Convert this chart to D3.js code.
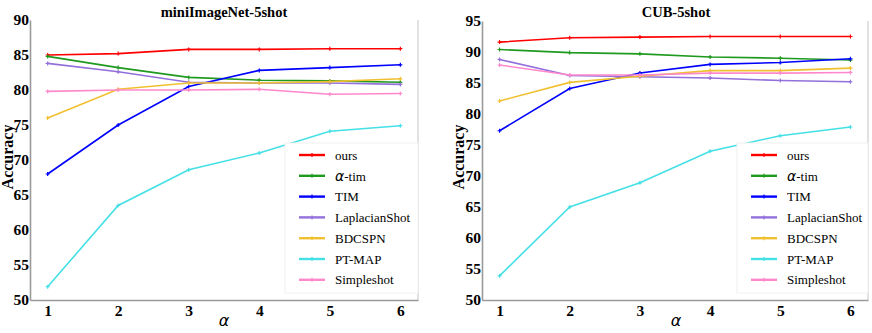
<!DOCTYPE html>
<html>
<head>
    <script src="https://d3js.org/d3.v7.min.js"></script>
    <style>
        body { margin: 0; background: #fff; }
    </style>
</head>
<body>
    <svg width="872" height="333"></svg>

    <script>
        // alpha values on the x axis
        const alphas = [1, 2, 3, 4, 5, 6];

        const methods = ["ours", "α-tim", "TIM", "LaplacianShot", "BDCSPN", "PT-MAP", "Simpleshot"];
        const colors = ["#ff0000", "#1f9a1f", "#0000ff", "#9370db", "#f0c030", "#44e0e6", "#ff88cc"];

        // miniImageNet-5shot accuracy, one array per method
        const miniOurs = [85.0, 85.2, 85.8, 85.8, 85.9, 85.9];
        const miniAlphaTim = [84.8, 83.2, 81.8, 81.4, 81.3, 81.1];
        const miniTim = [68.0, 75.0, 80.5, 82.8, 83.2, 83.6];
        const miniLaplacian = [83.8, 82.6, 81.1, 81.0, 81.0, 80.8];
        const miniBdcspn = [76.0, 80.1, 81.0, 81.0, 81.2, 81.6];
        const miniPtMap = [51.9, 63.5, 68.6, 71.0, 74.1, 74.9];
        const miniSimple = [79.8, 80.0, 80.0, 80.1, 79.4, 79.5];

        // CUB-5shot accuracy
        const cubOurs = [91.6, 92.3, 92.4, 92.5, 92.5, 92.5];
        const cubAlphaTim = [90.4, 89.9, 89.7, 89.2, 89.0, 88.7];
        const cubTim = [77.3, 84.1, 86.6, 88.0, 88.3, 88.9];
        const cubLaplacian = [88.8, 86.2, 86.0, 85.8, 85.4, 85.2];
        const cubBdcspn = [82.1, 85.1, 86.1, 87.0, 87.0, 87.4];
        const cubPtMap = [53.9, 65.0, 68.9, 74.0, 76.5, 77.9];
        const cubSimple = [87.9, 86.3, 86.3, 86.6, 86.6, 86.7];

        const miniTicks = [50, 55, 60, 65, 70, 75, 80, 85, 90];
        const cubTicks = [50, 55, 60, 65, 70, 75, 80, 85, 90, 95];

        const svg = d3.select("svg");
        const serif = "'Liberation Serif', 'Times New Roman', serif";
        const sans = "'DejaVu Sans', sans-serif";

        function drawPanel(opt) {
            const g = svg.append("g");
            const x = d3.scaleLinear().domain([0.75, 6.25]).range([opt.left, opt.right]);
            const y = d3.scaleLinear().domain(opt.yDomain).range([300, opt.top]);

            // frame: light right border, grey left and bottom axes
            g.append("line")
                .attr("x1", opt.right).attr("x2", opt.right)
                .attr("y1", opt.top).attr("y2", 300)
                .attr("stroke", "#d9d9d9").attr("stroke-width", 1.5);

            const yAxis = g.append("g")
                .attr("transform", `translate(${opt.left},0)`)
                .call(d3.axisLeft(y).tickValues(opt.ticks).tickSize(0).tickPadding(1));
            const xAxis = g.append("g")
                .attr("transform", "translate(0,300)")
                .call(d3.axisBottom(x).tickValues(alphas).tickFormat(d3.format("d")).tickSize(0).tickPadding(5));

            [yAxis, xAxis].forEach(a => {
                a.select(".domain").attr("stroke", "#9a9a9a").attr("stroke-width", 1.6);
                a.selectAll("text")
                    .attr("font-family", serif)
                    .attr("font-weight", "bold")
                    .attr("font-size", "15.5px")
                    .attr("fill", "#000");
            });

            // lines with small + markers
            const line = d3.line().x((d, i) => x(alphas[i])).y(d => y(d));
            opt.series.forEach((vals, k) => {
                g.append("path")
                    .datum(vals)
                    .attr("d", line)
                    .attr("fill", "none")
                    .attr("stroke", colors[k])
                    .attr("stroke-width", 1.6);
                g.selectAll(null)
                    .data(vals)
                    .enter()
                    .append("path")
                    .attr("d", (d, i) => `M${x(alphas[i]) - 2},${y(d)}h4M${x(alphas[i])},${y(d) - 2}v4`)
                    .attr("stroke", colors[k])
                    .attr("stroke-width", 1.2);
            });

            // title
            g.append("text")
                .attr("x", opt.titleX).attr("y", 17)
                .attr("text-anchor", "middle")
                .attr("font-family", serif).attr("font-weight", "bold")
                .attr("font-size", "14.5px")
                .text(opt.title);

            // y label
            g.append("text")
                .attr("transform", `translate(${opt.yLabelX},157) rotate(-90)`)
                .attr("text-anchor", "middle")
                .attr("dominant-baseline", "central")
                .attr("font-family", serif).attr("font-weight", "bold")
                .attr("font-size", "16px")
                .text("Accuracy");

            // x label
            g.append("text")
                .attr("x", opt.titleX).attr("y", 326)
                .attr("text-anchor", "middle")
                .attr("font-family", sans).attr("font-style", "italic")
                .attr("font-size", "16px")
                .text("α");

            // legend
            const lg = g.append("g");
            lg.append("rect")
                .attr("x", opt.legendX - 14).attr("y", 143)
                .attr("width", opt.right - opt.legendX + 14).attr("height", 150)
                .attr("fill", "#fff").attr("stroke", "#f0f0f0");
            methods.forEach((m, k) => {
                const ly = 155 + k * 20.8;
                lg.append("line")
                    .attr("x1", opt.legendX).attr("x2", opt.legendX + 26)
                    .attr("y1", ly).attr("y2", ly)
                    .attr("stroke", colors[k]).attr("stroke-width", 2.4);
                lg.append("path")
                    .attr("d", `M${opt.legendX + 13},${ly - 2}v4`)
                    .attr("stroke", colors[k]).attr("stroke-width", 1.2);
                const t = lg.append("text")
                    .attr("x", opt.legendX + 36).attr("y", ly)
                    .attr("dominant-baseline", "central")
                    .attr("font-family", serif)
                    .attr("font-size", "13px");
                if (m.startsWith("α")) {
                    t.append("tspan").attr("font-family", sans).attr("font-style", "italic")
                        .attr("font-size", "14px").text("α");
                    t.append("tspan").text(m.slice(1));
                } else {
                    t.text(m);
                }
            });
        }

        drawPanel({
            left: 30, right: 418, top: 20, yDomain: [50, 90], ticks: miniTicks,
            title: "miniImageNet-5shot", titleX: 224, yLabelX: 7, legendX: 299,
            series: [miniOurs, miniAlphaTim, miniTim, miniLaplacian, miniBdcspn, miniPtMap, miniSimple]
        });

        drawPanel({
            left: 482, right: 868, top: 21, yDomain: [50, 95], ticks: cubTicks,
            title: "CUB-5shot", titleX: 676, yLabelX: 458, legendX: 751,
            series: [cubOurs, cubAlphaTim, cubTim, cubLaplacian, cubBdcspn, cubPtMap, cubSimple]
        });
    </script>
</body>
</html>
